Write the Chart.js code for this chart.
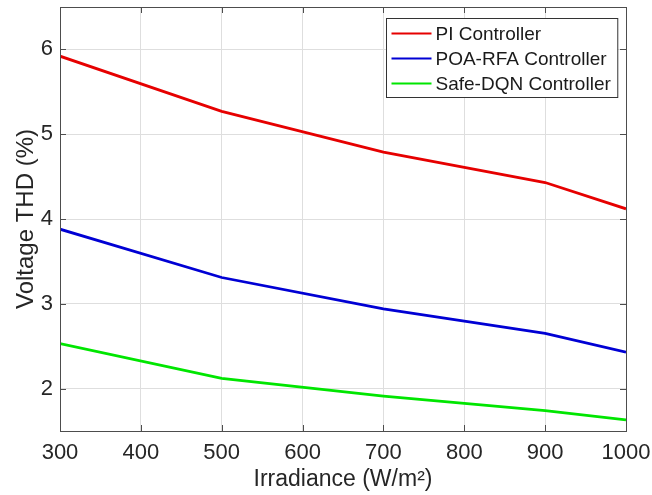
<!DOCTYPE html>
<html>
<head>
<meta charset="utf-8">
<script src="https://cdn.jsdelivr.net/npm/chart.js@4"></script>
<style>
  html, body { margin: 0; padding: 0; background: #fff; }
  #wrap { width: 652px; height: 495px; }
</style>
</head>
<body>
<div id="wrap"><canvas id="thdChart"></canvas></div>
<script>
// irradiance levels (W/m²)
const irradiance = [300, 500, 700, 900, 1000];
// voltage THD (%)
const piTHD = [5.92, 5.27, 4.79, 4.43, 4.12];
const poaTHD = [3.88, 3.31, 2.94, 2.65, 2.43];
const dqnTHD = [2.53, 2.12, 1.91, 1.74, 1.63];
const seriesNames = ['PI Controller', 'POA-RFA Controller', 'Safe-DQN Controller'];
const xTicks = [300, 400, 500, 600, 700, 800, 900, 1000];
const yTicks = [2, 3, 4, 5, 6];

const FONT = '"Liberation Sans", Arial, sans-serif';
const AXIS_COLOR = '#4d4d4d';

function toPoints(ys) {
    return irradiance.map((x, i) => ({ x: x, y: ys[i] }));
}

// MATLAB-style box with inward ticks + legend in the top-right corner
const matlabBox = {
    id: 'matlabBox',
    afterDraw(chart) {
        const ctx = chart.ctx;
        const a = chart.chartArea;
        const xs = chart.scales.x, ys = chart.scales.y;
        const tl = 6;
        ctx.save();
        ctx.strokeStyle = AXIS_COLOR;
        ctx.lineWidth = 1;
        ctx.beginPath();
        xTicks.forEach(v => {
            const px = Math.round(xs.getPixelForValue(v)) + 0.5;
            ctx.moveTo(px, a.bottom); ctx.lineTo(px, a.bottom - tl);
            ctx.moveTo(px, a.top); ctx.lineTo(px, a.top + tl);
        });
        yTicks.forEach(v => {
            const py = Math.round(ys.getPixelForValue(v)) + 0.5;
            ctx.moveTo(a.left, py); ctx.lineTo(a.left + tl, py);
            ctx.moveTo(a.right, py); ctx.lineTo(a.right - tl, py);
        });
        ctx.stroke();
        ctx.strokeRect(Math.round(a.left) + 0.5, Math.round(a.top) + 0.5,
            Math.round(a.right - a.left), Math.round(a.bottom - a.top));

        // legend
        ctx.font = '19px ' + FONT;
        let maxW = 0;
        chart.data.datasets.forEach(d => { maxW = Math.max(maxW, ctx.measureText(d.label).width); });
        const lineLen = 40, gap = 4, rowH = 25;
        const boxW = 5 + lineLen + gap + maxW + 7;
        const boxH = rowH * chart.data.datasets.length + 4;
        const bx = Math.round(a.right - 9 - boxW) + 0.5;
        const by = Math.round(a.top + 11) + 0.5;
        ctx.fillStyle = '#fff';
        ctx.fillRect(bx, by, boxW, boxH);
        ctx.strokeStyle = '#333';
        ctx.strokeRect(bx, by, boxW, boxH);
        ctx.textBaseline = 'middle';
        chart.data.datasets.forEach((d, i) => {
            const cy = by + 15 + i * rowH;
            ctx.strokeStyle = d.borderColor;
            ctx.lineWidth = 2;
            ctx.beginPath();
            ctx.moveTo(bx + 5, cy); ctx.lineTo(bx + 5 + lineLen, cy);
            ctx.stroke();
            ctx.fillStyle = '#1a1a1a';
            ctx.fillText(d.label, bx + 5 + lineLen + gap, cy + 1);
        });
        ctx.restore();
    }
};

document.addEventListener("DOMContentLoaded", function () {
    const ctx = document.getElementById('thdChart').getContext('2d');
    new Chart(ctx, {
        type: 'line',
        data: {
            datasets: [
                { label: seriesNames[0], data: toPoints(piTHD), borderColor: '#e60000' },
                { label: seriesNames[1], data: toPoints(poaTHD), borderColor: '#0000d4' },
                { label: seriesNames[2], data: toPoints(dqnTHD), borderColor: '#00e600' }
            ].map(d => Object.assign(d, { borderWidth: 2.8, pointRadius: 0, fill: false, tension: 0 }))
        },
        options: {
            responsive: true,
            maintainAspectRatio: false,
            animation: false,
            layout: { padding: { top: 7, right: 26, left: 0, bottom: 0 } },
            plugins: {
                legend: { display: false },
                tooltip: { enabled: false }
            },
            scales: {
                x: {
                    type: 'linear',
                    min: 300,
                    max: 1000,
                    afterBuildTicks: s => { s.ticks = xTicks.map(v => ({ value: v })); },
                    afterFit: s => { s.height = 64; s.paddingLeft = 0; s.paddingRight = 0; },
                    grid: { color: '#dedede', drawTicks: false },
                    border: { display: false },
                    ticks: {
                        color: '#262626', padding: 9, maxRotation: 0,
                        font: { family: FONT, size: 22 },
                        callback: v => String(v)
                    },
                    title: {
                        display: true,
                        text: 'Irradiance (W/m²)',
                        color: '#262626',
                        font: { family: FONT, size: 23 },
                        padding: { top: 0, bottom: 2 }
                    }
                },
                y: {
                    min: 1.5,
                    max: 6.5,
                    afterBuildTicks: s => { s.ticks = yTicks.map(v => ({ value: v })); },
                    afterFit: s => { s.width = 60; s.paddingTop = 0; s.paddingBottom = 0; },
                    grid: { color: '#dedede', drawTicks: false },
                    border: { display: false },
                    ticks: { color: '#262626', padding: 7, font: { family: FONT, size: 22 } },
                    title: {
                        display: true,
                        text: 'Voltage THD (%)',
                        color: '#262626',
                        font: { family: FONT, size: 24 },
                        padding: { top: 12, bottom: 0 }
                    }
                }
            }
        },
        plugins: [matlabBox]
    });
});
</script>
</body>
</html>
